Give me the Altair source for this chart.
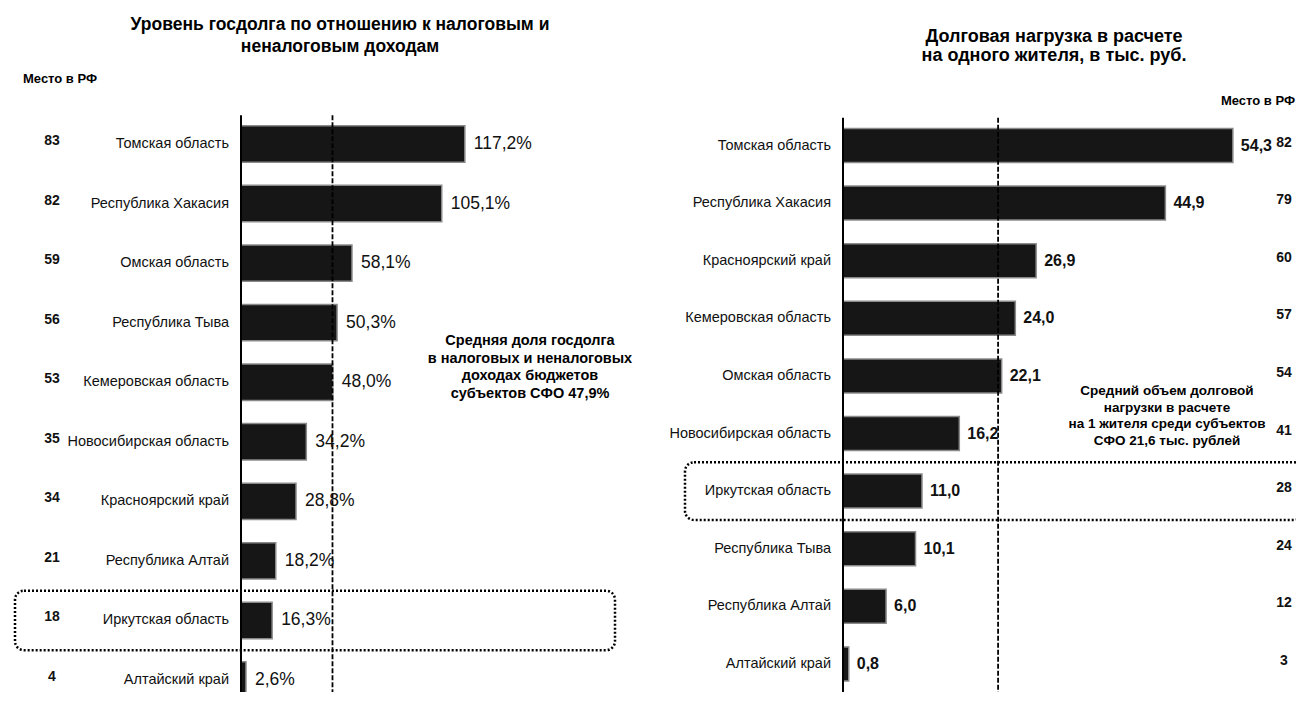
import altair as alt
import pandas as pd

# ---------------- data ----------------
left_regions = ["Томская область", "Республика Хакасия", "Омская область", "Республика Тыва",
                "Кемеровская область", "Новосибирская область", "Красноярский край",
                "Республика Алтай", "Иркутская область", "Алтайский край"]
left_values = [117.2, 105.1, 58.1, 50.3, 48.0, 34.2, 28.8, 18.2, 16.3, 2.6]
left_ranks = [83, 82, 59, 56, 53, 35, 34, 21, 18, 4]
left_mean = 47.9

right_regions = ["Томская область", "Республика Хакасия", "Красноярский край", "Кемеровская область",
                 "Омская область", "Новосибирская область", "Иркутская область", "Республика Тыва",
                 "Республика Алтай", "Алтайский край"]
right_values = [54.3, 44.9, 26.9, 24.0, 22.1, 16.2, 11.0, 10.1, 6.0, 0.8]
right_ranks = [82, 79, 60, 57, 54, 41, 28, 24, 12, 3]
right_mean = 21.6

highlight = "Иркутская область"

left_title = ["Уровень госдолга по отношению к налоговым и", "неналоговым доходам"]
right_title = ["Долговая нагрузка в расчете", "на одного жителя, в тыс. руб."]
left_note = ["Средняя доля госдолга", "в налоговых и неналоговых", "доходах бюджетов",
             "субъектов СФО 47,9%"]
right_note = ["Средний объем долговой", "нагрузки  в расчете", "на 1 жителя среди субъектов",
              "СФО 21,6 тыс. рублей"]
rank_header = "Место в РФ"

FONT = "Liberation Sans"


def fmt(v, pct):
    s = f"{v:.1f}".replace(".", ",")
    return s + ("%" if pct else "")


left_df = pd.DataFrame({"region": left_regions, "value": left_values, "rank": left_ranks,
                        "label": [fmt(v, True) for v in left_values]})
right_df = pd.DataFrame({"region": right_regions, "value": right_values, "rank": right_ranks,
                         "label": [fmt(v, False) for v in right_values]})


def panel(df, regions, mean, xscale, yrange, pad_inner, label_right, rank_x,
          val_size, val_weight, val_dx, rect_x, rect_x2):
    ysc = alt.Scale(domain=regions, range=yrange, paddingInner=pad_inner,
                    paddingOuter=pad_inner / 2)
    base = alt.Chart(df)
    y = alt.Y("region:N", scale=ysc, axis=None, sort=regions)
    x = alt.X("value:Q", scale=xscale, axis=None)

    bars = base.mark_bar(fill="#161616", stroke="#8a8a8a", strokeWidth=1.5).encode(x=x, y=y)
    vals = base.mark_text(align="left", baseline="middle", dx=val_dx, font=FONT,
                          fontSize=val_size, fontWeight=val_weight, color="#111").encode(
        x=x, y=y, text="label:N")
    names = base.mark_text(align="right", baseline="middle", font=FONT, fontSize=14.5,
                           color="#111").encode(
        x=alt.value(label_right), y=y, text="region:N")
    ranks = base.mark_text(align="center", baseline="middle", font=FONT, fontSize=14,
                           fontWeight="bold", dy=-3, color="#111").encode(
        x=alt.value(rank_x), y=y, text="rank:N")
    zero = alt.Chart(pd.DataFrame({"z": [0]})).mark_rule(color="#000", strokeWidth=2).encode(
        x=alt.X("z:Q", scale=xscale, axis=None), y=alt.value(yrange[0] + 1), y2=alt.value(700))
    meanr = alt.Chart(pd.DataFrame({"m": [mean]})).mark_rule(
        color="#000", strokeWidth=1.8, strokeDash=[5, 2]).encode(
        x=alt.X("m:Q", scale=xscale, axis=None), y=alt.value(yrange[0] + 1), y2=alt.value(700))
    inner = alt.layer(bars, zero, meanr, vals, names, ranks)

    rsc = alt.Scale(domain=regions, range=yrange, paddingInner=0, paddingOuter=0)
    rect = alt.Chart(df[df["region"] == highlight]).mark_rect(
        fillOpacity=0, stroke="#000", strokeWidth=2.5, strokeDash=[2, 2], cornerRadius=9).encode(
        y=alt.Y("region:N", scale=rsc, axis=None), x=alt.value(rect_x), x2=alt.value(rect_x2))
    return inner, rect


left_x = alt.Scale(domain=[0, 100], range=[233, 424], zero=True, nice=False)
right_x = alt.Scale(domain=[0, 50], range=[835, 1194], zero=True, nice=False)

left_inner, left_rect = panel(left_df, left_regions, left_mean, left_x, [106.2, 701.8], 0.39,
                              221, 44, 17.5, "normal", 9, 7, 607)
right_inner, right_rect = panel(right_df, right_regions, right_mean, right_x, [108.7, 684.7], 0.41,
                                823, 1276, 16, "bold", 8, 677, 1295)

dummy = pd.DataFrame({"d": [0]})


def txt(lines, x, y, size, weight="bold", align="center", lh=None):
    return alt.Chart(dummy).mark_text(
        text=lines, align=align, baseline="top", font=FONT, fontSize=size, fontWeight=weight,
        lineHeight=lh if lh else size * 1.35, color="#000").encode(
        x=alt.value(x), y=alt.value(y))


texts = [
    txt(left_title, 332, 8, 17.5, lh=22),
    txt(right_title, 1046, 20, 18, lh=19),
    txt([rank_header], 15, 65, 13, align="left"),
    txt([rank_header], 1287, 87, 13, align="right"),
    txt(left_note, 522, 326, 14.5, lh=17.5),
    txt(right_note, 1159, 376, 13.5, lh=16.5),
]

chart = alt.layer(left_inner, left_rect, right_inner, right_rect, *texts).resolve_scale(
    x="independent", y="independent"
).properties(
    width=1288, height=684, autosize="none", padding=0
).configure_view(stroke=None)

chart.save("out.html", embed_options={"renderer": "svg", "actions": False})
